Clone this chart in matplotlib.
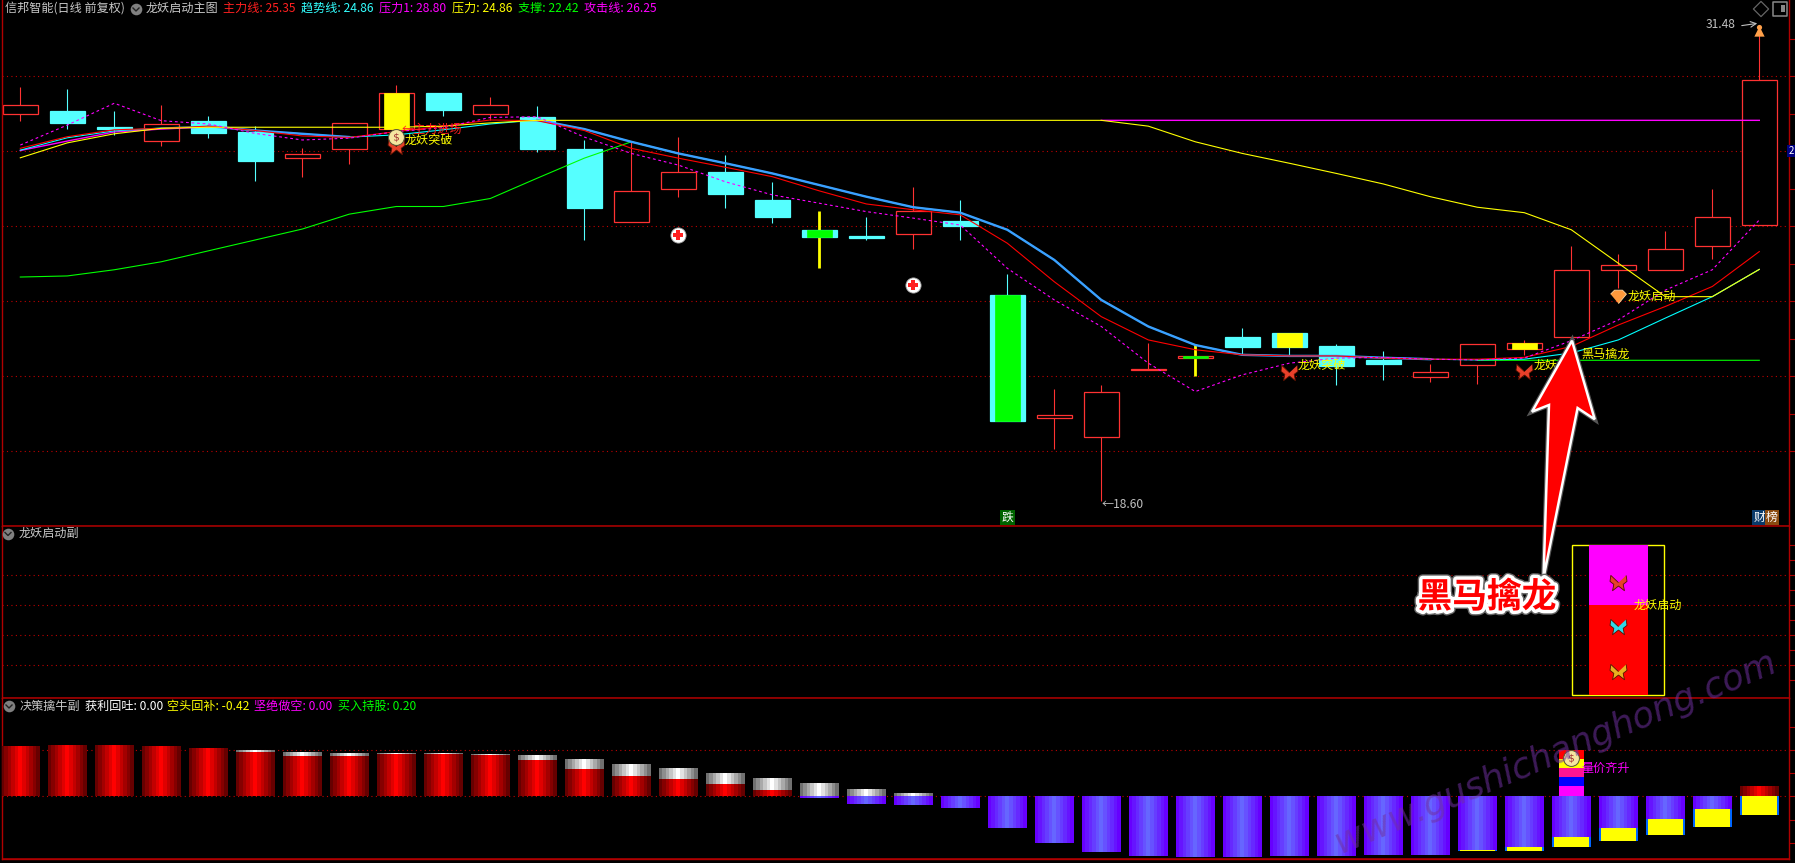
import numpy as np
import matplotlib
matplotlib.use("Agg")
import matplotlib.pyplot as plt
import matplotlib.patheffects as pe
from matplotlib.colors import to_rgb

plt.rcParams['font.family'] = ['Noto Sans CJK SC', 'DejaVu Sans']

# ------------------------------------------------------------
# Data
# ------------------------------------------------------------

opens = [29.26, 29.34, 28.90, 28.52, 29.06, 28.76, 28.05, 28.30, 28.84, 29.83,
         29.26, 29.17, 28.29, 26.27, 27.20, 27.66, 26.89, 26.07, 25.90, 25.96,
         26.31, 24.28, 20.88, 20.38, 22.20, 22.55, 23.12, 23.23, 22.88, 22.49,
         22.03, 22.36, 22.80, 23.13, 24.95, 24.95, 25.61, 26.21]
closes = [29.49, 29.01, 28.84, 28.97, 28.73, 27.96, 28.16, 29.00, 29.83, 29.37,
          29.49, 28.29, 26.67, 27.13, 27.65, 27.06, 26.42, 25.87, 25.85, 26.58,
          26.18, 20.81, 20.97, 21.60, 22.24, 22.60, 22.85, 22.85, 22.33, 22.38,
          22.15, 22.92, 22.95, 24.96, 25.09, 25.53, 26.41, 30.18]
highs = [29.99, 29.94, 29.34, 29.50, 29.20, 28.92, 28.32, 29.00, 30.05, 29.83,
         29.72, 29.48, 28.54, 28.49, 28.61, 28.13, 27.39, 26.59, 26.42, 27.25,
         26.89, 24.86, 21.69, 21.79, 22.96, 22.93, 23.37, 23.23, 22.93, 22.74,
         22.38, 22.92, 23.04, 25.63, 25.40, 26.04, 27.19, 31.48]
lows = [29.07, 28.84, 28.68, 28.38, 28.60, 27.41, 27.52, 27.88, 28.46, 29.20,
        29.09, 28.21, 25.79, 26.27, 26.98, 26.67, 26.26, 25.02, 25.79, 25.55,
        25.79, 20.81, 20.04, 18.60, 22.20, 22.05, 22.66, 22.63, 21.79, 21.94,
        21.87, 21.83, 22.63, 23.13, 24.47, 24.95, 25.27, 26.21]

main_line = [28.31, 28.63, 28.82, 28.86, 28.92, 28.80, 28.65, 28.61, 28.77, 28.92,
             29.09, 29.07, 28.80, 28.31, 28.04, 27.79, 27.53, 27.14, 26.78, 26.62,
             26.48, 25.70, 24.64, 23.68, 23.04, 22.77, 22.63, 22.60, 22.60, 22.54,
             22.51, 22.51, 22.56, 22.86, 23.45, 23.96, 24.51, 25.47]
trend_line = [28.26, 28.60, 28.79, 28.87, 28.92, 28.80, 28.71, 28.62, 28.68, 28.82,
              28.98, 29.09, 28.84, 28.49, 28.17, 27.90, 27.62, 27.30, 26.98, 26.69,
              26.54, 26.07, 25.24, 24.14, 23.41, 22.90, 22.63, 22.60, 22.60, 22.55,
              22.51, 22.49, 22.51, 22.68, 23.04, 23.64, 24.23, 24.98]
attack_line = [28.40, 28.95, 29.55, 29.07, 28.98, 28.72, 28.54, 28.59, 28.77, 28.88,
               29.16, 29.18, 28.62, 28.17, 27.85, 27.39, 27.03, 26.80, 26.57, 26.39,
               26.20, 25.01, 24.14, 23.41, 22.40, 21.62, 22.08, 22.40, 22.54, 22.56,
               22.51, 22.49, 22.54, 23.02, 23.59, 24.41, 24.97, 26.34]
pressure_line = [28.05, 28.46, 28.71, 28.86, 28.89, 28.89, 28.89, 28.89, 28.89, 28.92,
                 29.01, 29.08, 29.08, 29.08, 29.08, 29.08, 29.08, 29.08, 29.08, 29.08,
                 29.08, 29.08, 29.08, 29.08, 28.92, 28.49, 28.17, 27.90, 27.62, 27.33,
                 26.98, 26.69, 26.54, 26.07, 25.15, 24.23, 24.23, 24.98]
nan = float("nan")
pressure1_line = [28.25, 28.51, 28.76, 28.84, 28.90, nan, nan, nan, nan, nan,
                  nan, nan, nan, nan, nan, nan, nan, nan, nan, nan,
                  nan, nan, nan, 29.08, 29.08, 29.08, 29.08, 29.08, 29.08, 29.08,
                  29.08, 29.08, 29.08, 29.08, 29.08, 29.08, 29.08, 29.08]
support_line = [24.77, 24.80, 24.97, 25.19, 25.49, 25.79, 26.09, 26.50, 26.71, 26.71,
                26.93, 27.49, 28.04, 28.49, 28.17, nan, nan, nan, nan, nan,
                nan, nan, nan, nan, nan, nan, nan, nan, nan, nan,
                nan, 22.48, 22.48, 22.48, 22.48, 22.48, 22.48, 22.48]

# lower panel stacks
red_top = [0.54, 0.55, 0.55, 0.54, 0.52, 0.48, 0.44, 0.44, 0.46, 0.46,
           0.45, 0.39, 0.30, 0.22, 0.19, 0.13, 0.07, 0, 0, 0,
           0, 0, 0, 0, 0, 0, 0, 0, 0, 0,
           0, 0, 0, 0, 0, 0, 0, 0.11]
white_top = [0, 0, 0, 0, 0, 0.50, 0.48, 0.47, 0.47, 0.47,
             0.46, 0.45, 0.40, 0.35, 0.31, 0.25, 0.20, 0.145, 0.08, 0.04,
             0, 0, 0, 0, 0, 0, 0, 0, 0, 0,
             0, 0, 0, 0, 0, 0, 0, 0]
purple_bottom = [0, 0, 0, 0, 0, 0, 0, 0, 0, 0,
                 0, 0, 0, 0, 0, 0, 0, -0.02, -0.08, -0.09,
                 -0.12, -0.34, -0.50, -0.60, -0.64, -0.65, -0.65, -0.64, -0.64, -0.63,
                 -0.63, -0.58, -0.54, -0.44, -0.34, -0.24, -0.13, 0]
yellow_bottom = [0, 0, 0, 0, 0, 0, 0, 0, 0, 0,
                 0, 0, 0, 0, 0, 0, 0, 0, 0, 0,
                 0, 0, 0, 0, 0, 0, 0, 0, 0, 0,
                 0, -0.59, -0.59, -0.54, -0.48, -0.41, -0.33, -0.20]
surge_edges = [0.50, 0.40, 0.31, 0.21, 0.11, 0.0]
surge_colors = ["#ff0000", "#ffff00", "#ff1493", "#0000ff", "#ff00ff"]

price_grid = [30.29, 28.23, 26.16, 24.10, 22.04, 19.98]
signal_grid = [20, 40, 60, 80]
money_grid = [0.0, 0.5]

RED = "#ff3232"
CYAN = "#55ffff"
LINE_RED = "#b00000"
N = len(opens)
x = np.arange(N)

# ------------------------------------------------------------
# Figure and the three panels (sizes in screen pixels)
# ------------------------------------------------------------

W, H = 1795, 863
fig = plt.figure(figsize=(W / 100, H / 100), dpi=100, facecolor="black")


def panel(top, bottom, ylim):
    ax = fig.add_axes([1.5 / W, 1 - bottom / H, 1787.5 / W, (bottom - top) / H])
    ax.set_facecolor("black")
    ax.set_xlim((1.5 - 20.3) / 47, (1789 - 20.3) / 47)
    ax.set_ylim(*ylim)
    ax.set_xticks([])
    ax.spines["top"].set_visible(False)
    for name in ["left", "right", "bottom"]:
        ax.spines[name].set_color(LINE_RED)
        ax.spines[name].set_linewidth(1.0)
    ax.yaxis.tick_right()
    ax.tick_params(axis="y", which="both", colors=LINE_RED, length=4, width=0.8,
                   labelright=False, labelleft=False)
    return ax


ax1 = panel(0, 525.7, (17.93, 32.39))
ax2 = panel(525.7, 697.7, (-2, 113.1))
ax3 = panel(697.7, 859, (-0.672, 1.062))

for ax, grid in [(ax1, price_grid), (ax2, signal_grid), (ax3, money_grid)]:
    ax.set_yticks(grid)
    ax.grid(axis="y", color="#c00000", linestyle=(0, (1, 3)), linewidth=0.8)
    ax.set_axisbelow(True)

ax1.set_yticks(np.array(price_grid) + 1.03, minor=True)
ax2.set_yticks([10, 30, 50, 70, 90, 100], minor=True)
ax3.set_yticks([0.25, 0.75, -0.25, -0.5], minor=True)

# ------------------------------------------------------------
# Candles
# ------------------------------------------------------------

body_w = 35 / 47
inner_w = 25 / 47
inner_fill = {8: "#ffff00", 17: "#00ff00", 21: "#00ff00", 25: "#00ff00",
              27: "#ffff00", 32: "#ffff00"}
thick_wick = [17, 25]

for i in x:
    up = closes[i] >= opens[i]
    col = RED if up else CYAN
    wick_col = "#ffff00" if i in thick_wick else col
    ax1.vlines(i, lows[i], highs[i], color=wick_col, linewidth=2.0 if i in thick_wick else 0.8, zorder=2)
    low_b, high_b = min(opens[i], closes[i]), max(opens[i], closes[i])
    ax1.bar(i, high_b - low_b, bottom=low_b, width=body_w,
            facecolor="black" if up else CYAN, edgecolor=col, linewidth=0.9, zorder=2.2)
    if i in inner_fill:
        ax1.bar(i, high_b - low_b, bottom=low_b, width=inner_w,
                facecolor=inner_fill[i], edgecolor=inner_fill[i], linewidth=0.5, zorder=2.3)

# ------------------------------------------------------------
# Indicator lines
# ------------------------------------------------------------

trend = np.array(trend_line)
trend_blue = np.full(N, np.nan)
trend_blue[4:8] = trend[4:8]
trend_blue[11:31] = trend[11:31]

ax1.plot(x, pressure1_line, color="#ff00ff", linewidth=1.0, zorder=3)
ax1.plot(x, support_line, color="#00ff00", linewidth=0.8, zorder=3)
ax1.plot(x, trend, color="#00ffff", linewidth=0.8, zorder=3.1)
ax1.plot(x, trend_blue, color="#3aa0ff", linewidth=1.7, zorder=3.2)
ax1.plot(x, main_line, color="#ff0000", linewidth=0.8, zorder=3.3)
ax1.plot(x, pressure_line, color="#ffff00", linewidth=0.8, zorder=3.4)
ax1.plot(x, attack_line, color="#ff00ff", linewidth=0.8, linestyle=(0, (2.5, 2.5)), zorder=3.5)

# plus badges and icons on the main panel
for i, price in [(14, 25.93), (19, 24.55)]:
    ax1.scatter(i, price, s=120, color="white", edgecolor="#999999", linewidth=0.6, zorder=4)
    ax1.scatter(i, price, s=45, marker="P", color="#ff2020", linewidth=0, zorder=4.1)

WINGS = [(0, 0.1), (-0.9, 0.95), (-1, 0.25), (-0.55, -0.1), (-0.7, -0.85), (0, -0.3),
         (0.7, -0.85), (0.55, -0.1), (1, 0.25), (0.9, 0.95)]
GEM = [(-1, 0.3), (-0.5, 0.8), (0.5, 0.8), (1, 0.3), (0, -0.9)]


def butterfly(ax, i, val, col):
    ax.scatter(i, val, s=150, marker=WINGS, color=col, edgecolor="#551100", linewidth=0.6, zorder=5)


def money_bag(ax, i, val):
    ax.scatter(i, val, s=130, color="#f5e6a0", edgecolor="#555533", linewidth=0.7, zorder=5.1)
    ax.scatter(i, val, s=45, marker=r"$\$$", color="#a03030", linewidth=0, zorder=5.2)


butterfly(ax1, 8, 28.36, "#e8402a")
butterfly(ax1, 27, 22.14, "#e8402a")
butterfly(ax1, 32, 22.17, "#e8402a")
money_bag(ax1, 8, 28.62)
ax1.scatter(34, 24.25, s=130, marker=GEM, color="#ff9a3c", edgecolor="#ffd9a0", linewidth=0.6, zorder=5)
ax1.scatter(37, 31.65, s=14, color="#ffa04a", linewidth=0, zorder=5)
ax1.scatter(37, 31.53, s=55, marker="^", color="#ffa04a", linewidth=0, zorder=5)

# ------------------------------------------------------------
# Signal panel
# ------------------------------------------------------------

ax2.bar(34, 100, width=92 / 47, facecolor="none", edgecolor="#ffff00", linewidth=1.0, zorder=2)
ax2.bar(34, 60, width=59 / 47, color="#ff0000", linewidth=0, zorder=3)
ax2.bar(34, 40, bottom=60, width=59 / 47, color="#ff00ff", linewidth=0, zorder=3)
butterfly(ax2, 34, 75, "#e8402a")
butterfly(ax2, 34, 45, "#30d8e8")
butterfly(ax2, 34, 15, "#e8b020")

# ------------------------------------------------------------
# Money flow panel: striped columns
# ------------------------------------------------------------


def striped(ax, i, low, high, edge, mid, width=39 / 47, n=11):
    if high <= low:
        return
    edge, mid = np.array(to_rgb(edge)), np.array(to_rgb(mid))
    step = width / n
    for k in range(n):
        t = 1 - abs(k - (n - 1) / 2) / ((n - 1) / 2)
        ax.bar(i - width / 2 + step * (k + 0.5), high - low, bottom=low, width=step * 1.02,
               color=edge + (mid - edge) * t, linewidth=0, antialiased=False, zorder=3)


for i in x:
    striped(ax3, i, 0, red_top[i], "#660000", "#ff0000")
    striped(ax3, i, max(red_top[i], 0), white_top[i], "#707070", "#ffffff")
    striped(ax3, i, purple_bottom[i], 0, "#6600ff", "#6666ff")
    if yellow_bottom[i] < 0:
        top = purple_bottom[i]
        ax3.bar(i, top - yellow_bottom[i], bottom=yellow_bottom[i], width=39 / 47,
                color="#0066ff", linewidth=0, zorder=3.1)
        ax3.bar(i, top - yellow_bottom[i], bottom=yellow_bottom[i], width=35 / 47,
                color="#ffff00", linewidth=0, zorder=3.2)

for k, col in enumerate(surge_colors):
    ax3.bar(33, surge_edges[k] - surge_edges[k + 1], bottom=surge_edges[k + 1], width=25 / 47,
            color=col, linewidth=0, zorder=3.4)
money_bag(ax3, 33, 0.41)

# ------------------------------------------------------------
# Overlay for texts, in screen pixels
# ------------------------------------------------------------

ov = fig.add_axes([0, 0, 1, 1], facecolor="none")
ov.set_xlim(0, W)
ov.set_ylim(H, 0)
ov.axis("off")

# panel separators sit on top of the neighbouring axes
ov.hlines([525.5, 697.5, 859], 1.5, 1789, color=LINE_RED, linewidth=1.1)


def label(px, py, s, col, size=8.7, **kw):
    return ov.text(px, py, s, color=col, fontsize=size, va="center", **kw)


def fold_icon(px, py):
    ov.scatter(px, py, s=70, color="#808080", linewidth=0)
    ov.plot([px - 3, px, px + 3], [py - 1, py + 2, py - 1], color="#222222", linewidth=1)


label(5, 8.5, "信邦智能(日线 前复权)", "#c8c8c8")
fold_icon(136, 9)
label(146, 8.5, "龙妖启动主图", "#c8c8c8")
label(223, 8.5, "主力线: 25.35", "#ff2020")
label(301, 8.5, "趋势线: 24.86", "#33ffff")
label(379, 8.5, "压力1: 28.80", "#ff00ff")
label(452, 8.5, "压力: 24.86", "#ffff00")
label(518, 8.5, "支撑: 22.42", "#00ff00")
label(584, 8.5, "攻击线: 26.25", "#ff00ff")

fold_icon(8, 533.5)
label(19, 533.5, "龙妖启动副", "#c8c8c8")
fold_icon(9, 706)
label(20, 706, "决策擒牛副", "#c8c8c8")
label(85, 706, "获利回吐: 0.00", "#ffffff")
label(167, 706, "空头回补: -0.42", "#ffff00")
label(254.5, 706, "坚绝做空: 0.00", "#ff00ff")
label(338, 706, "买入持股: 0.20", "#00ff00")

label(402, 129, "←主力进场", "#ff2020")
label(405, 140, "龙妖突破", "#ffff00")
label(1298, 365, "龙妖突破", "#ffff00")
label(1534, 365, "龙妖", "#ffff00")
label(1628, 296.5, "龙妖启动", "#ffff00")
label(1581, 354, "黑马擒龙", "#ffff00")
label(1634, 605.5, "龙妖启动", "#ffff00", zorder=6)
label(1581, 768, "量价齐升", "#ff00ff")
label(1102, 504, "←18.60", "#c0c0c0")
label(1706, 25, "31.48", "#c0c0c0")
ov.annotate("", xy=(1760, 23), xytext=(1739, 26),
            arrowprops=dict(arrowstyle="->", color="#c0c0c0", linewidth=0.8))
ov.text(1007.5, 517.5, "跌", color="white", fontsize=8.5, ha="center", va="center",
        bbox=dict(facecolor="#006400", edgecolor="none", pad=1))
ov.text(1759, 517.5, "财", color="white", fontsize=8.5, ha="center", va="center",
        bbox=dict(facecolor="#0a3a6a", edgecolor="none", pad=1))
ov.text(1772, 517.5, "榜", color="white", fontsize=8.5, ha="center", va="center",
        bbox=dict(facecolor="#8a4a10", edgecolor="none", pad=1))
ov.text(1791, 151, "2", color="white", fontsize=7, ha="center", va="center",
        bbox=dict(facecolor="#000080", edgecolor="none", pad=1))

ov.scatter(1761, 9, s=60, marker="D", facecolor="none", edgecolor="#666666", linewidth=0.9)
ov.scatter(1780, 9, s=90, marker="s", facecolor="none", edgecolor="#888888", linewidth=1.1)
ov.bar(1783, 7, bottom=5.5, width=4, color="#888888", linewidth=0)

# big annotation arrow
arrow_x = [1572, 1594.7, 1577.6, 1543.5, 1549, 1532]
arrow_y = [340.7, 419.3, 408, 578, 405, 411.7]
ov.fill(arrow_x, arrow_y, facecolor="#ff0000", edgecolor="white", linewidth=1.8, zorder=7,
        path_effects=[pe.withStroke(linewidth=3.5, foreground="#555555")])
ov.text(1487, 597, "黑马擒龙", color="#ff0000", fontsize=25, fontweight="bold", ha="center", va="center",
        zorder=8, path_effects=[pe.withStroke(linewidth=7, foreground="#666666"),
                                pe.withStroke(linewidth=5, foreground="white")])

# watermark
ov.text(1556, 753, "www.gushichanghong.com", color="#7030a0", alpha=0.55, fontsize=25.5, style="italic",
        family="DejaVu Sans", rotation=22.7, rotation_mode="anchor", ha="center", va="center", zorder=9)

fig.savefig("out.png", dpi=100, facecolor="black")
